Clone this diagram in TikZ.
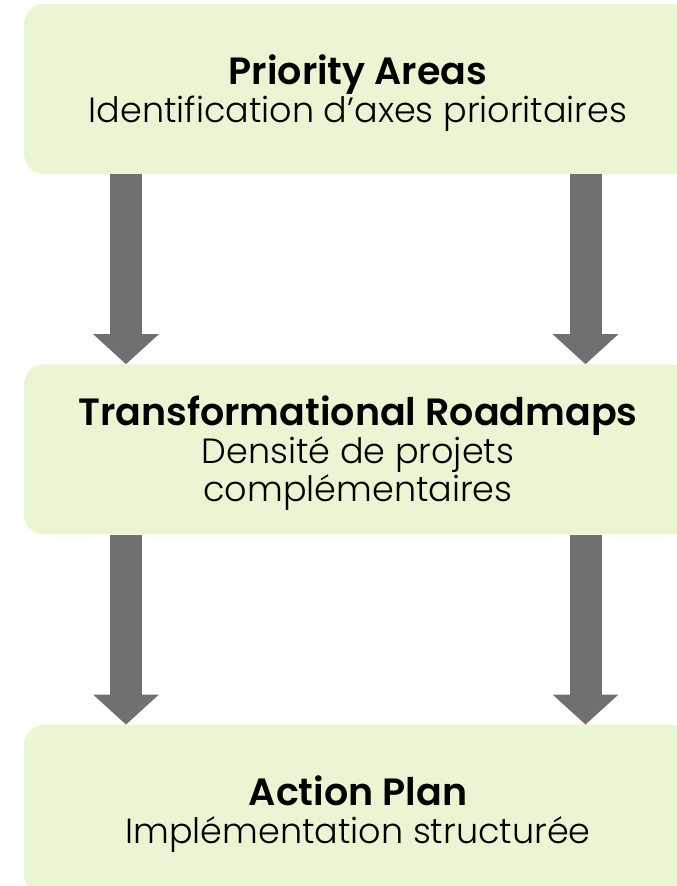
\documentclass[tikz,border=0pt]{standalone}
\usepackage{fontspec}
\setmainfont{Poppins}[UprightFont=* Light, BoldFont=* SemiBold]
\usetikzlibrary{positioning, arrows.meta}
\definecolor{boxgreen}{HTML}{EAF6D3}
\definecolor{arrowgray}{HTML}{707070}
\tikzset{
box/.style={fill=boxgreen, rounded corners=20pt, minimum width=668pt, minimum height=170pt, align=center, font=\fontsize{35}{38}\selectfont}, % the three stages
flow/.style={draw=arrowgray, line width=32pt, -{Triangle[width=64pt, length=30pt]}}, % the thick grey arrows
}
\newcommand{\stagetitle}[1]{\rule{0pt}{38pt}{\fontsize{38}{40}\selectfont\bfseries #1}}

\begin{document}
\begin{tikzpicture}[x=1pt, y=1pt]
        \useasboundingbox (0,0) rectangle (677,-886);
        \clip (0,0) rectangle (677,-886);

        \node[box] (prio) at (358,-89) {\stagetitle{Priority Areas}\\Identification d’axes prioritaires};
        \node[box, below=190pt of prio] (road) {\stagetitle{Transformational Roadmaps}\\Densité de projets\\complémentaires};
        \node[box, below=190pt of road] (plan) {\stagetitle{Action Plan}\\Implémentation structurée};

        \coordinate (lcol) at (126,0);
        \coordinate (rcol) at (585.5,0);

        \draw[flow] (prio.south -| lcol) -- (road.north -| lcol);
        \draw[flow] (prio.south -| rcol) -- (road.north -| rcol);
        \draw[flow] (road.south -| lcol) -- (plan.north -| lcol);
        \draw[flow] (road.south -| rcol) -- (plan.north -| rcol);

    \end{tikzpicture}
\end{document}
